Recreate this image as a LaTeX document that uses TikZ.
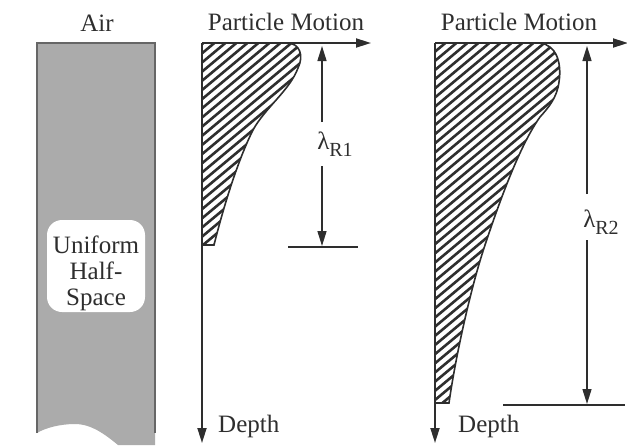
\documentclass[tikz,border=0pt]{standalone}
\usepackage{fontspec}
\setmainfont{Liberation Serif}
\usetikzlibrary{arrows.meta}
\newcommand\lamsub[1]{λ\raisebox{-7pt}{\fontsize{20}{20}\selectfont #1}}
\begin{document}
\begin{tikzpicture}[x=1pt,y=-1pt,
  axis/.style={draw=black!82, line width=1.8pt, -{Triangle[length=15pt,width=9pt]}},
  dimarrow/.style={draw=black!82, line width=1.5pt, -{Triangle[length=15pt,width=9pt]}},
  hatchline/.style={draw=black!82, line width=2.6pt},
  outline/.style={draw=black!82, line width=1.6pt},
  refline/.style={draw=black!82, line width=1.8pt},
  lbl/.style={text=black!82, font=\fontsize{25}{26}\selectfont, inner sep=0pt},
  halfspace/.style={fill=black!33},
  halfborder/.style={draw=black!60, line width=2pt},
]
\useasboundingbox (0,0) rectangle (627,445);

% ---------- Air / half-space column ----------
\fill[halfspace] (37,43) -- (155,43) -- (155,445) -- (118,445)
  .. controls (100,430) and (88,424) .. (75,424)
  .. controls (60,424) and (45,428) .. (37,433) -- cycle;
\draw[halfborder] (37,433) -- (37,43) -- (155,43) -- (155,433);
\node[fill=white, rounded corners=15pt, minimum width=98pt, minimum height=92pt, inner sep=0pt] (box) at (96,266) {};
\node[lbl, align=center] (hstext) at (96,273) {Uniform\\Half-\\Space};
\node[lbl, anchor=base] (air) at (97,31) {Air};

% ---------- first profile ----------
\coordinate (o1) at (202,43);
\coordinate (x1) at (371,43);
\coordinate (d1) at (202,443);
\begin{scope}
  \clip (202,43) -- (287,43) .. controls (300,43) and (304,56) .. (298,68)
    .. controls (290,90) and (265,108) .. (253,130)
    .. controls (238,160) and (224,205) .. (214,245) -- (202,245) -- cycle;
  \foreach \k in {-50,...,70} \draw[hatchline] (\k*11,460) -- ++(600,-500);
\end{scope}
\draw[outline] (202,43) -- (287,43) .. controls (300,43) and (304,56) .. (298,68)
    .. controls (290,90) and (265,108) .. (253,130)
    .. controls (238,160) and (224,205) .. (214,245) -- (202,245);
\draw[axis] (o1) -- (x1);
\draw[axis] (o1) -- (d1);
\node[lbl, anchor=base west] (depth1) at (218,432) {Depth};
\node[lbl, anchor=base] (pm1) at (286,30) {Particle Motion};

\coordinate (r1top) at (322,46);
\coordinate (r1bot) at (322,246);
\node[lbl] (lam1) at (335,144) {\lamsub{R1}};
\draw[dimarrow] (322,122) -- (r1top);
\draw[dimarrow] (322,166) -- (r1bot);
\coordinate (b1l) at (288,247);
\coordinate (b1r) at (358,247);
\draw[refline] (b1l) -- (b1r);

% ---------- second profile ----------
\coordinate (o2) at (435,43);
\coordinate (x2) at (628,43);
\coordinate (d2) at (435,443);
\begin{scope}
  \clip (435,43) -- (540,43) .. controls (556,45) and (562,62) .. (559,82)
    .. controls (557,98) and (548,108) .. (540,117)
    .. controls (520,145) and (500,200) .. (485,245)
    .. controls (470,290) and (455,360) .. (449,403) -- (435,403) -- cycle;
  \foreach \k in {-40,...,90} \draw[hatchline] (\k*11,460) -- ++(600,-500);
\end{scope}
\draw[outline] (435,43) -- (540,43) .. controls (556,45) and (562,62) .. (559,82)
    .. controls (557,98) and (548,108) .. (540,117)
    .. controls (520,145) and (500,200) .. (485,245)
    .. controls (470,290) and (455,360) .. (449,403) -- (435,403);
\draw[axis] (o2) -- (x2);
\draw[axis] (o2) -- (d2);
\node[lbl, anchor=base west] (depth2) at (458,432) {Depth};
\node[lbl, anchor=base] (pm2) at (519,30) {Particle Motion};

\coordinate (r2top) at (587,46);
\coordinate (r2bot) at (587,404);
\node[lbl] (lam2) at (601,222) {\lamsub{R2}};
\draw[dimarrow] (587,194) -- (r2top);
\draw[dimarrow] (587,240) -- (r2bot);
\coordinate (b2l) at (503,405);
\coordinate (b2r) at (625,405);
\draw[refline] (b2l) -- (b2r);
\end{tikzpicture}
\end{document}
